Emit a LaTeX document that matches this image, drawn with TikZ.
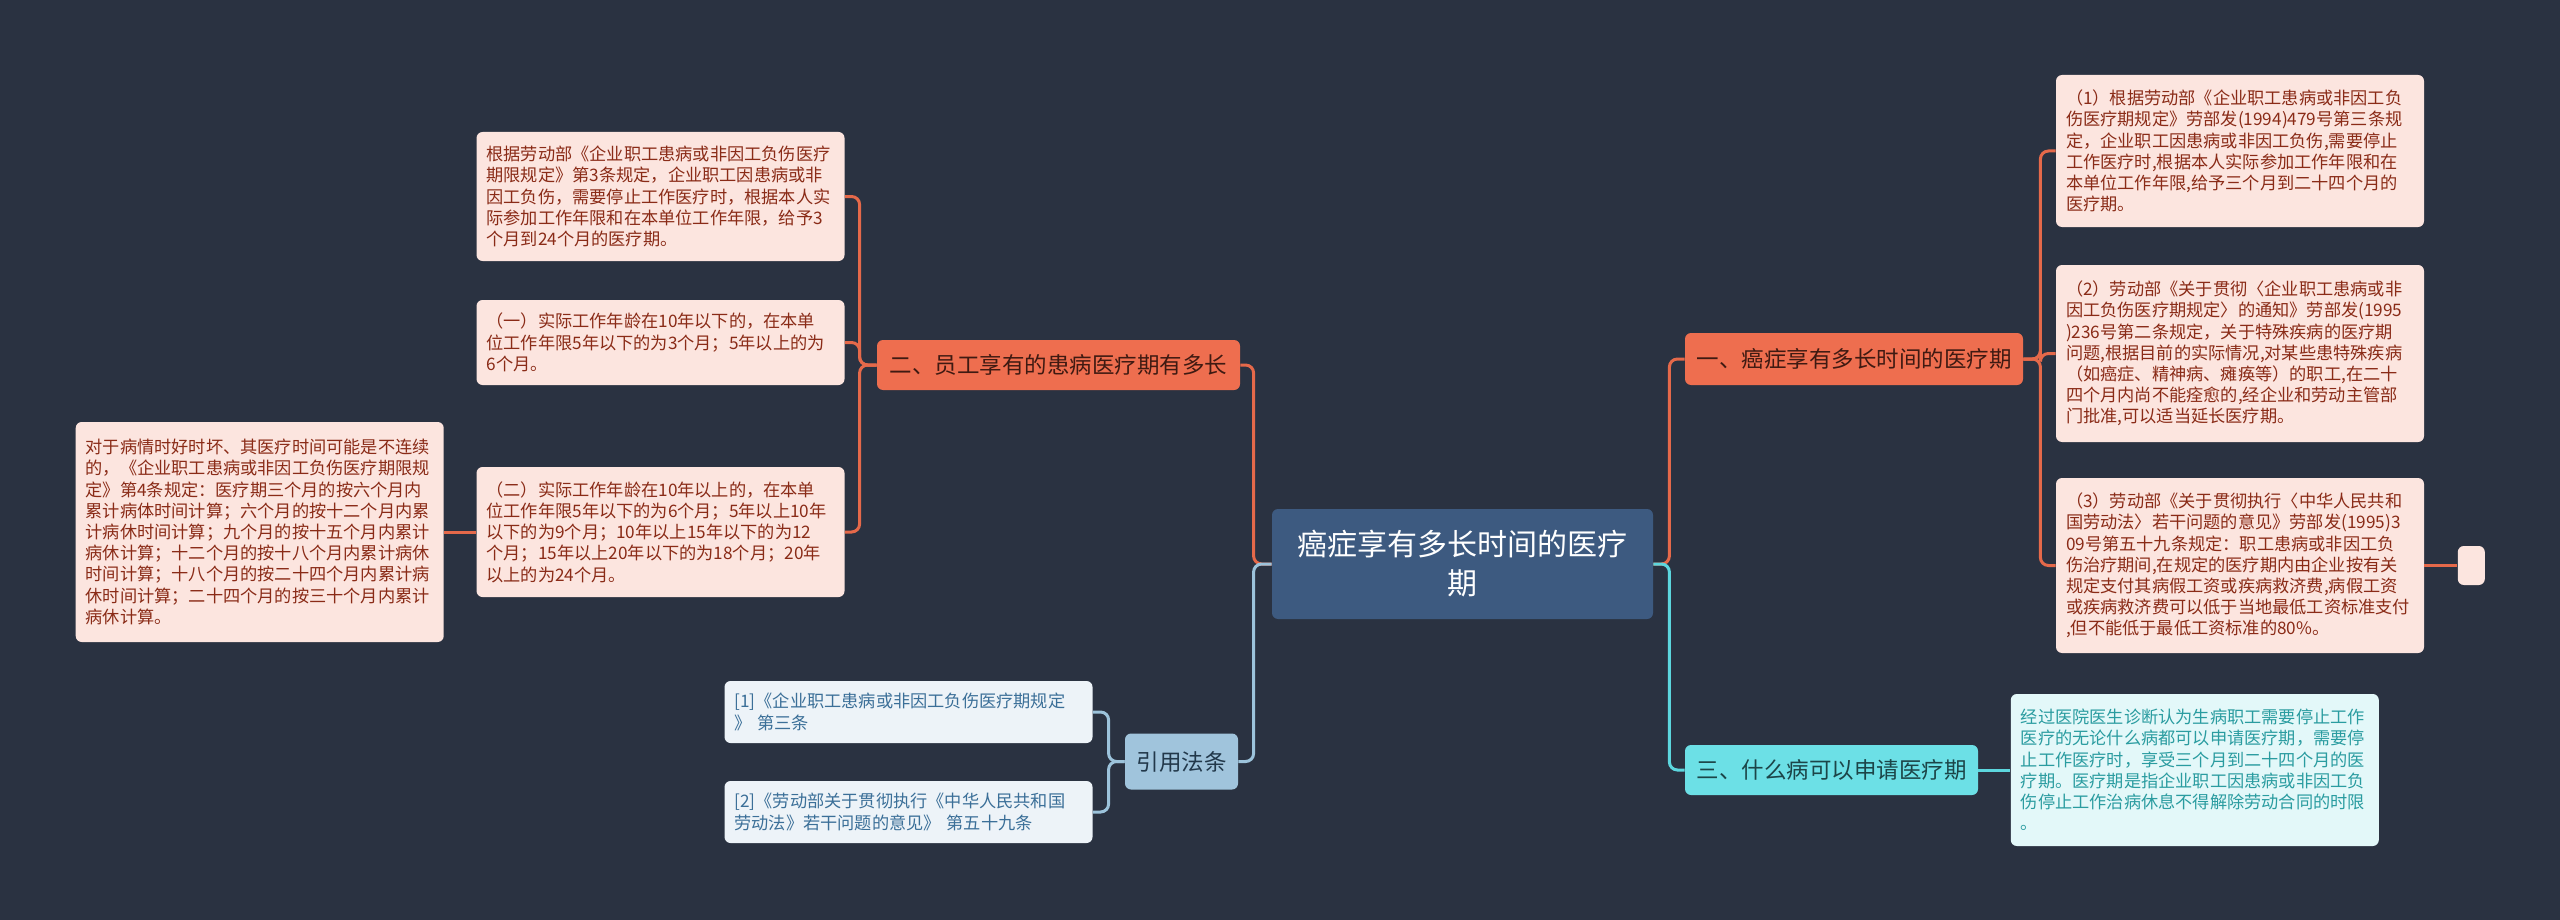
\documentclass[tikz,border=0pt]{standalone}
\usepackage{fontspec}
\setmainfont{Noto Sans CJK SC}
\usetikzlibrary{positioning}
\definecolor{bg}{HTML}{2A3241}
\definecolor{root}{HTML}{3D5A80}
\definecolor{org}{HTML}{EE6E4F}
\definecolor{orgline}{HTML}{E5694A}
\definecolor{orgtext}{HTML}{3F1A12}
\definecolor{pink}{HTML}{FCE5DF}
\definecolor{pinktext}{HTML}{8A2B17}
\definecolor{cyn}{HTML}{6CE0E6}
\definecolor{cynline}{HTML}{5CD6DE}
\definecolor{cyntext}{HTML}{1C4548}
\definecolor{lcyn}{HTML}{E3F8F9}
\definecolor{lcyntext}{HTML}{2A9CA0}
\definecolor{sky}{HTML}{A0C4DC}
\definecolor{skyline}{HTML}{9CC3DB}
\definecolor{skytext}{HTML}{22384A}
\definecolor{lsky}{HTML}{EDF3F8}
\definecolor{lskytext}{HTML}{3B6F98}
\begin{document}
\begin{tikzpicture}[x=0.5pt,y=-0.5pt,
    box/.style={rectangle,rounded corners=3pt,inner sep=0pt,align=center},
    topic/.style={box,fill=org,text=orgtext,font=\fontsize{11.25pt}{14pt}\selectfont},
    leaf/.style={box,fill=pink,text=pinktext,align=left,text width=174pt,inner xsep=5pt,
      font=\fontsize{8.6pt}{10.6pt}\selectfont},
    orgedge/.style={draw=orgline,line width=1.5pt,rounded corners=4pt},
    cynedge/.style={draw=cynline,line width=1.5pt,rounded corners=4pt},
    skyedge/.style={draw=skyline,line width=1.5pt,rounded corners=4pt}]
  \useasboundingbox (0,0) rectangle (2560,920);
  \fill[bg] (0,0) rectangle (2560,920);

  \node[box,fill=root,text=white,minimum width=190.5pt,minimum height=55pt,
    font=\fontsize{15pt}{19.5pt}\selectfont] (m) at (1462.5,564) {癌症享有多长时间的医疗\\期};

  % left side
  \node[topic,minimum width=181.5pt,minimum height=25pt] (b) at (1058.5,365) {二、员工享有的患病医疗期有多长};
  \node[leaf,minimum height=64.5pt] (b1) at (660.5,196.5) {根据劳动部《企业职工患病或非因工负伤医疗\\期限规定》第3条规定，企业职工因患病或非\\因工负伤，需要停止工作医疗时，根据本人实\\际参加工作年限和在本单位工作年限，给予3\\个月到24个月的医疗期。};
  \node[leaf,minimum height=42.5pt] (b2) at (660.5,342.5) {（一）实际工作年龄在10年以下的，在本单\\位工作年限5年以下的为3个月；5年以上的为\\6个月。};
  \node[leaf,minimum height=65pt] (b3) at (660.5,532) {（二）实际工作年龄在10年以上的，在本单\\位工作年限5年以下的为6个月；5年以上10年\\以下的为9个月；10年以上15年以下的为12\\个月；15年以上20年以下的为18个月；20年\\以上的为24个月。};
  \node[leaf,minimum height=110pt,left=16pt of b3] (b4) {对于病情时好时坏、其医疗时间可能是不连续\\的，《企业职工患病或非因工负伤医疗期限规\\定》第4条规定：医疗期三个月的按六个月内\\累计病体时间计算；六个月的按十二个月内累\\计病休时间计算；九个月的按十五个月内累计\\病休计算；十二个月的按十八个月内累计病休\\时间计算；十八个月的按二十四个月内累计病\\休时间计算；二十四个月的按三十个月内累计\\病休计算。};

  \node[box,fill=sky,text=skytext,minimum width=56.5pt,minimum height=28pt,
    font=\fontsize{11.25pt}{14pt}\selectfont] (d) at (1181.5,761.5) {引用法条};
  \node[leaf,fill=lsky,text=lskytext,minimum height=31pt] (d1) at (908.5,712) {[1]《企业职工患病或非因工负伤医疗期规定\\》 第三条};
  \node[leaf,fill=lsky,text=lskytext,minimum height=31pt] (d2) at (908.5,812) {[2]《劳动部关于贯彻执行《中华人民共和国\\劳动法》若干问题的意见》 第五十九条};

  % right side
  \node[topic,minimum width=169pt,minimum height=26pt] (a) at (1854,359) {一、癌症享有多长时间的医疗期};
  \node[leaf,minimum height=76pt] (a1) at (2240,151) {（1）根据劳动部《企业职工患病或非因工负\\伤医疗期规定》劳部发(1994)479号第三条规\\定，企业职工因患病或非因工负伤,需要停止\\工作医疗时,根据本人实际参加工作年限和在\\本单位工作年限,给予三个月到二十四个月的\\医疗期。};
  \node[leaf,minimum height=88.5pt] (a2) at (2240,353.5) {（2）劳动部《关于贯彻〈企业职工患病或非\\因工负伤医疗期规定〉的通知》劳部发(1995\\)236号第二条规定，关于特殊疾病的医疗期\\问题,根据目前的实际情况,对某些患特殊疾病\\（如癌症、精神病、瘫痪等）的职工,在二十\\四个月内尚不能痊愈的,经企业和劳动主管部\\门批准,可以适当延长医疗期。};
  \node[leaf,minimum height=87.5pt] (a3) at (2240,565.5) {（3）劳动部《关于贯彻执行〈中华人民共和\\国劳动法〉若干问题的意见》劳部发(1995)3\\09号第五十九条规定：职工患病或非因工负\\伤治疗期间,在规定的医疗期内由企业按有关\\规定支付其病假工资或疾病救济费,病假工资\\或疾病救济费可以低于当地最低工资标准支付\\,但不能低于最低工资标准的80\%。};
  \node[box,fill=pink,minimum width=13.5pt,minimum height=19.5pt,right=16.5pt of a3] (a4) {};

  \node[topic,fill=cyn,text=cyntext,minimum width=146.5pt,minimum height=25pt] (c) at (1831.5,770) {三、什么病可以申请医疗期};
  \node[leaf,fill=lcyn,text=lcyntext,minimum height=76pt,right=16pt of c] (c1) {经过医院医生诊断认为生病职工需要停止工作\\医疗的无论什么病都可以申请医疗期，需要停\\止工作医疗时，享受三个月到二十四个月的医\\疗期。医疗期是指企业职工因患病或非因工负\\伤停止工作治病休息不得解除劳动合同的时限\\。};

  \draw[orgedge] (m.west) -- ++(-18,0) |- (b.east);
  \draw[skyedge] (m.west) -- ++(-18,0) |- (d.east);
  \draw[orgedge] (m.east) -- ++(16,0) |- (a.west);
  \draw[cynedge] (m.east) -- ++(16,0) |- (c.west);
  \draw[orgedge] (b.west) -- ++(-17,0) |- (b1.east);
  \draw[orgedge] (b.west) -- ++(-17,0) |- (b2.east);
  \draw[orgedge] (b.west) -- ++(-17,0) |- (b3.east);
  \draw[orgedge] (b3.west) -- (b4.east);
  \draw[skyedge] (d.west) -- ++(-16,0) |- (d1.east);
  \draw[skyedge] (d.west) -- ++(-16,0) |- (d2.east);
  \draw[orgedge] (a.east) -- ++(17,0) |- (a1.west);
  \draw[orgedge] (a.east) -- ++(17,0) |- (a2.west);
  \draw[orgedge] (a.east) -- ++(17,0) |- (a3.west);
  \draw[orgedge] (a3.east) -- (a4.west);
  \draw[cynedge] (c.east) -- (c1.west);
\end{tikzpicture}
\end{document}
